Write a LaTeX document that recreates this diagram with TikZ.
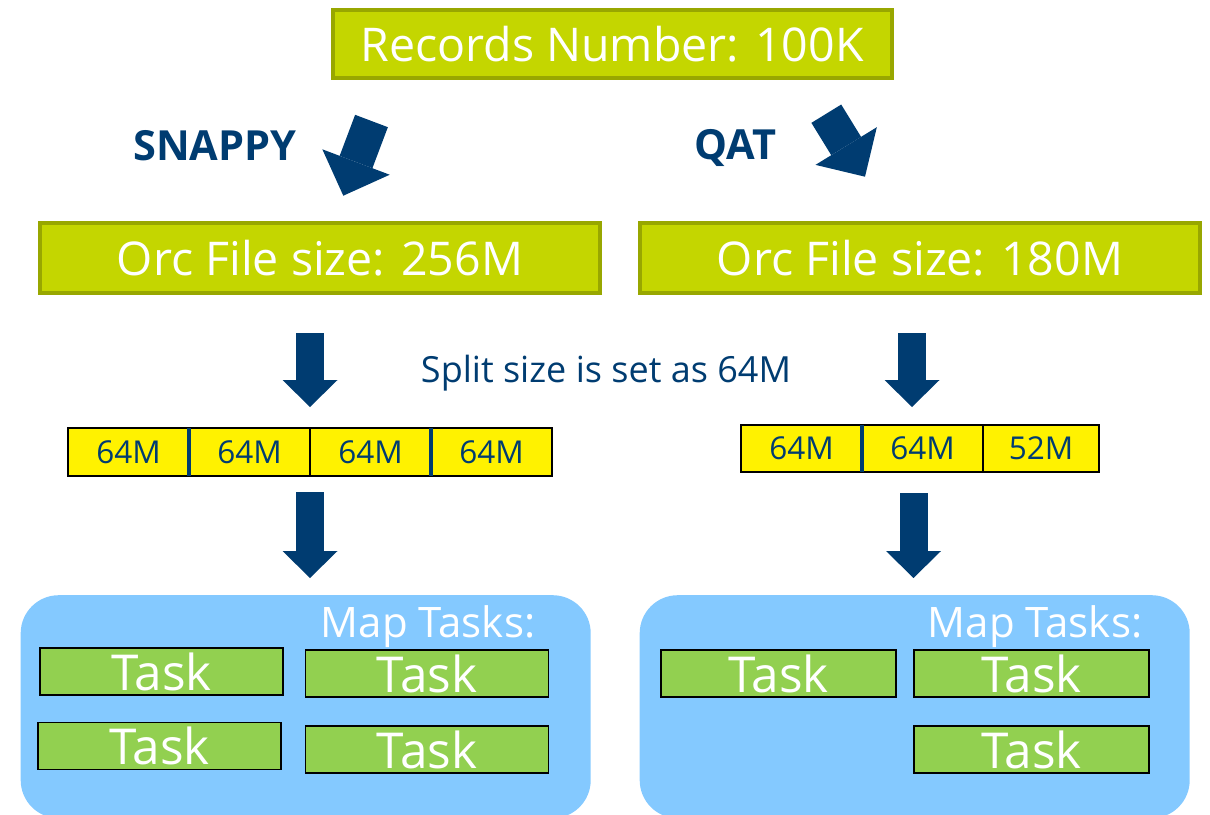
\documentclass[tikz,border=0pt]{standalone}
\usepackage{fontspec}
\setmainfont{Open Sans}
\usepackage{tikz}
\usetikzlibrary{positioning,arrows.meta}

\definecolor{intelblue}{HTML}{003C71}
\definecolor{lime}{HTML}{C4D600}
\definecolor{limeedge}{HTML}{98A700}
\definecolor{mapblue}{HTML}{84C9FF}
\definecolor{taskgreen}{HTML}{92D050}

\begin{document}
\begin{tikzpicture}[x=1pt, y=-1pt,
    sizebox/.style={draw=limeedge, line width=4pt, fill=lime, text=white,
      inner sep=0pt, font=\fontsize{46.5}{50}\selectfont},
    cell/.style={draw=black, line width=1.2pt, fill=yellow, text=intelblue,
      minimum width=121pt, minimum height=48pt, inner sep=0pt, outer sep=0pt,
      font=\fontsize{31.5}{34}\selectfont},
    divider/.style={intelblue, line width=4pt},
    mapbox/.style={fill=mapblue, rounded corners=38pt, minimum width=570pt,
      minimum height=223pt, anchor=north west},
    maplabel/.style={text=white, anchor=base, font=\fontsize{42}{46}\selectfont},
    taskbox/.style={draw=black, line width=1.5pt, fill=taskgreen, text=white,
      minimum width=243pt, minimum height=47pt, inner sep=0pt,
      font=\fontsize{49.5}{54}\selectfont},
    method/.style={text=intelblue, font=\bfseries\fontsize{41.5}{45}\selectfont},
    fatarrow/.style={draw=intelblue, line width=28pt,
      -{Triangle[length=27pt, width=55pt, line width=0pt]}},
    slantarrow/.style={draw=intelblue, line width=35pt,
      -{Triangle[length=36pt, width=72pt, line width=0pt]}},
  ]

  % frame
  \clip (0,0) rectangle (1210,814);

  % records box
  \node[sizebox, minimum width=559pt, minimum height=68pt] (rec) at (612,44) {Records Number: 100K};

  % compression labels
  \node[method] (snappy) at (215,146) {SNAPPY};
  \node[method] (qat) at (735,148) {QAT};

  % slanted arrows
  \coordinate (snapfrom) at (371.5,121);
  \coordinate (snapto) at (343.3,195.7);
  \coordinate (qatfrom) at (826.3,113.7);
  \coordinate (qatto) at (865,176.7);
  \draw[slantarrow] (snapfrom) -- (snapto);
  \draw[slantarrow] (qatfrom) -- (qatto);

  % orc file boxes
  \node[sizebox, minimum width=560pt, minimum height=70pt] (orcl) at (320,258) {Orc File size: 256M};
  \node[sizebox, minimum width=560pt, minimum height=70pt] (orcr) at (920,258) {Orc File size: 180M};

  % split label
  \node[text=intelblue, font=\fontsize{36}{40}\selectfont] (split) at (606,373) {Split size is set as 64M};

  % splits, snappy
  \node[cell] (sl1) at (128.5,452) {64M};
  \node[cell, right=0pt of sl1] (sl2) {64M};
  \node[cell, right=0pt of sl2] (sl3) {64M};
  \node[cell, right=0pt of sl3] (sl4) {64M};
  \draw[divider] (sl1.north east) -- (sl1.south east);
  \draw[divider] (sl3.north east) -- (sl3.south east);

  % splits, qat
  \node[cell, minimum height=47pt] (sr1) at (801.5,448.5) {64M};
  \node[cell, minimum height=47pt, right=0pt of sr1] (sr2) {64M};
  \node[cell, minimum height=47pt, minimum width=116pt, right=0pt of sr2] (sr3) {52M};
  \draw[divider] (sr1.north east) -- (sr1.south east);

  % map task areas
  \node[mapbox] (mapl) at (20.5,595) {};
  \node[mapbox, minimum width=550pt] (mapr) at (639.5,595) {};
  \node[maplabel] (mapltitle) at (428,637) {Map Tasks:};
  \node[maplabel] (maprtitle) at (1035,637) {Map Tasks:};

  % down arrows
  \draw[fatarrow, shorten <=38pt, shorten >=21pt] (orcl.south -| sl2.east) -- (sl2.north east);
  \draw[fatarrow, shorten <=38pt, shorten >=18pt] ([xshift=-8pt]orcr.south) -- ([xshift=-8pt]orcr.south |- sr2.north);
  \draw[fatarrow, shorten <=16pt, shorten >=17pt] (sl2.south east) -- (sl2.south east |- mapl.north);
  \draw[fatarrow, shorten <=21pt, shorten >=17pt] ([xshift=-9pt]sr2.south) -- ([xshift=-9pt]sr2.south |- mapr.north);

  % tasks
  \node[taskbox] (tl1) at (161.5,671.5) {Task};
  \node[taskbox] (tl2) at (427,673.5) {Task};
  \node[taskbox] (tl3) at (159.5,746) {Task};
  \node[taskbox] (tl4) at (427,749.5) {Task};
  \node[taskbox, minimum width=235pt] (tr1) at (778.5,673.5) {Task};
  \node[taskbox, minimum width=235pt] (tr2) at (1031.5,673.5) {Task};
  \node[taskbox, minimum width=235pt] (tr3) at (1031.5,749.5) {Task};

\end{tikzpicture}
\end{document}
